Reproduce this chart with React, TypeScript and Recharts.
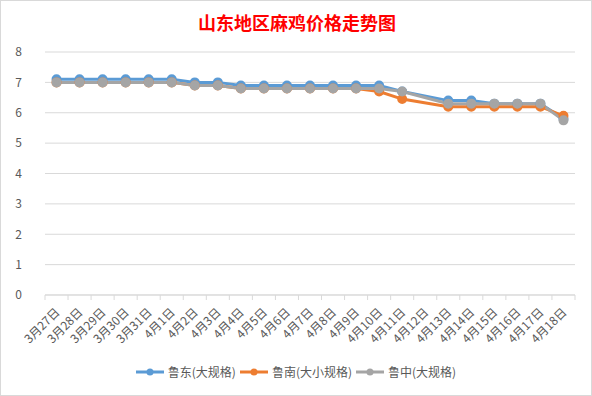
import React from 'react';
import { LineChart, Line, XAxis, YAxis, CartesianGrid } from 'recharts';

const categories = ['3月27日','3月28日','3月29日','3月30日','3月31日','4月1日','4月2日','4月3日','4月4日','4月5日','4月6日','4月7日','4月8日','4月9日','4月10日','4月11日','4月12日','4月13日','4月14日','4月15日','4月16日','4月17日','4月18日'];
const ludong: (number | null)[] = [7.1,7.1,7.1,7.1,7.1,7.1,7.0,7.0,6.9,6.9,6.9,6.9,6.9,6.9,6.9,6.7,null,6.4,6.4,6.3,6.3,6.3,5.8];
const lunan: (number | null)[] = [7.0,7.0,7.0,7.0,7.0,7.0,6.9,6.9,6.8,6.8,6.8,6.8,6.8,6.8,6.7,6.45,null,6.2,6.2,6.2,6.2,6.2,5.9];
const luzhong: (number | null)[] = [7.0,7.0,7.0,7.0,7.0,7.0,6.9,6.9,6.8,6.8,6.8,6.8,6.8,6.8,6.8,6.7,null,6.3,6.3,6.3,6.3,6.3,5.75];
const yTicks = [0,1,2,3,4,5,6,7,8];

const seriesNames = ['鲁东(大规格)','鲁南(大小规格)','鲁中(大规格)'];
const colors = ['#5b9bd5','#ed7d31','#a5a5a5'];

const data = categories.map((c, i) => ({ name: c, a: ludong[i], b: lunan[i], c: luzhong[i] }));

const W = 592, H = 396;
const ML = 45, MR = 17, MT = 52, MB = 101;
const plotW = W - ML - MR;
const band = plotW / categories.length;

const Tick = (props: any) => {
  const { x, y, payload, index } = props;
  const isLast = index === categories.length - 1;
  return (
    <g>
      <line x1={x - band / 2} y1={y - 8} x2={x - band / 2} y2={y - 3} stroke="#d9d9d9" />
      {isLast && <line x1={x + band / 2} y1={y - 8} x2={x + band / 2} y2={y - 3} stroke="#d9d9d9" />}
      <text x={x + 4} y={y + 10} transform={`rotate(-45, ${x + 4}, ${y + 10})`} textAnchor="end" fontSize={12} fill="#595959" fontFamily="'Noto Sans CJK SC', sans-serif">
        {payload.value}
      </text>
    </g>
  );
};

const LegendContent = () => (
  <div style={{ display: 'flex', justifyContent: 'center', fontSize: 12, color: '#595959', fontFamily: "'Noto Sans CJK SC', sans-serif" }}>
    {seriesNames.map((n, i) => (
      <div key={n} style={{ display: 'flex', alignItems: 'center', marginRight: 3 }}>
        <svg width={30} height={10} style={{ marginRight: 3 }}>
          <line x1={1} y1={5} x2={29} y2={5} stroke={colors[i]} strokeWidth={3} />
          <circle cx={15} cy={5} r={3.5} fill={colors[i]} />
        </svg>
        <span>{n}</span>
      </div>
    ))}
  </div>
);

export default function App() {
  return (
    <div style={{ position: 'absolute', left: 0, top: 0, width: W - 2, height: H - 2, border: '1px solid #d9d9d9', background: '#fff' }}>
      <div style={{ position: 'absolute', left: 0, top: 9, width: W, textAlign: 'center', color: '#ff0000', fontSize: 18, fontWeight: 'bold', fontFamily: "'Noto Sans CJK SC', sans-serif", lineHeight: '24px' }}>
        山东地区麻鸡价格走势图
      </div>
      <div style={{ position: 'absolute', left: -1, top: -1 }}>
        <LineChart width={W} height={H} data={data} margin={{ left: ML - 30, right: MR, top: MT, bottom: 0 }}>
          <CartesianGrid vertical={false} stroke="#d9d9d9" />
          <XAxis dataKey="name" interval={0} tickLine={false} axisLine={{ stroke: '#d9d9d9' }} tick={<Tick />} height={MB} padding={{ left: band / 2, right: band / 2 }} />
          <YAxis domain={[0, 8]} ticks={yTicks} width={30} axisLine={false} tickLine={false} tick={{ fontSize: 12, fill: '#595959', fontFamily: "'Noto Sans CJK SC', sans-serif" }} tickMargin={17} />
          <Line type="linear" dataKey="a" stroke={colors[0]} strokeWidth={3} dot={{ r: 3.5, fill: colors[0], stroke: colors[0] }} connectNulls isAnimationActive={false} />
          <Line type="linear" dataKey="b" stroke={colors[1]} strokeWidth={3} dot={{ r: 3.5, fill: colors[1], stroke: colors[1] }} connectNulls isAnimationActive={false} />
          <Line type="linear" dataKey="c" stroke={colors[2]} strokeWidth={3} dot={{ r: 3.5, fill: colors[2], stroke: colors[2] }} connectNulls isAnimationActive={false} />
        </LineChart>
      </div>
      <div style={{ position: 'absolute', left: 0, top: 362, width: W }}>
        <LegendContent />
      </div>
    </div>
  );
}
